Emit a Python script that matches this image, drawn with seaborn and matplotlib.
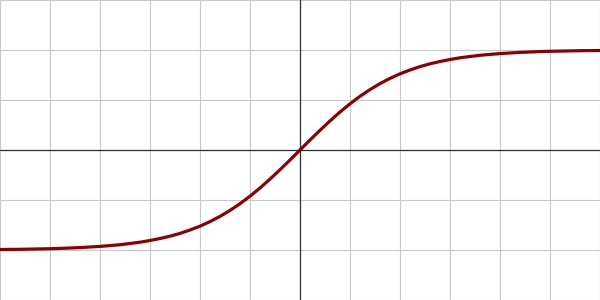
import matplotlib
matplotlib.use("Agg")
import matplotlib.pyplot as plt
import seaborn as sns
import pandas as pd

# values (right half; the curve is point-symmetric about the origin)
x_pos = [0.0, 0.1, 0.2, 0.3, 0.4, 0.5, 0.6, 0.7, 0.8, 0.9, 1.0,
         1.1, 1.2, 1.3, 1.4, 1.5, 1.6, 1.7, 1.8, 1.9, 2.0,
         2.1, 2.2, 2.3, 2.4, 2.5, 2.6, 2.7, 2.8, 2.9, 3.0]
y_pos = [0.0, 0.100, 0.197, 0.291, 0.380, 0.462, 0.537, 0.604, 0.664, 0.716, 0.762,
         0.800, 0.834, 0.862, 0.885, 0.905, 0.922, 0.935, 0.947, 0.956, 0.964,
         0.970, 0.976, 0.980, 0.984, 0.987, 0.989, 0.991, 0.993, 0.994, 0.995]
grid_x = [-3.0, -2.5, -2.0, -1.5, -1.0, -0.5, 0.0, 0.5, 1.0, 1.5, 2.0, 2.5, 3.0]
grid_y = [-1.5, -1.0, -0.5, 0.0, 0.5, 1.0, 1.5]

x_vals = [-v for v in reversed(x_pos[1:])] + x_pos
y_vals = [-v for v in reversed(y_pos[1:])] + y_pos
df = pd.DataFrame({"x": x_vals, "y": y_vals})

sns.set_theme(style="white")
fig = plt.figure(figsize=(6, 3), dpi=100)
ax = fig.add_axes([0, 0, 1, 1])
ax.set_xlim(-3, 3)
ax.set_ylim(-1.5, 1.5)
ax.set_xticks(grid_x)
ax.set_yticks(grid_y)
ax.grid(True, color="#c8c8c8", linewidth=0.8)
ax.tick_params(length=0, labelbottom=False, labelleft=False)
for s in ax.spines.values():
    s.set_visible(False)
ax.axhline(0, color="#333333", linewidth=0.9, zorder=2)
ax.axvline(0, color="#333333", linewidth=0.9, zorder=2)
sns.lineplot(data=df, x="x", y="y", ax=ax, color="#8b0000", linewidth=2.3,
             sort=False, zorder=3, solid_joinstyle="round", solid_capstyle="round")
ax.set_xlabel("")
ax.set_ylabel("")
fig.savefig("out.png", dpi=100)
